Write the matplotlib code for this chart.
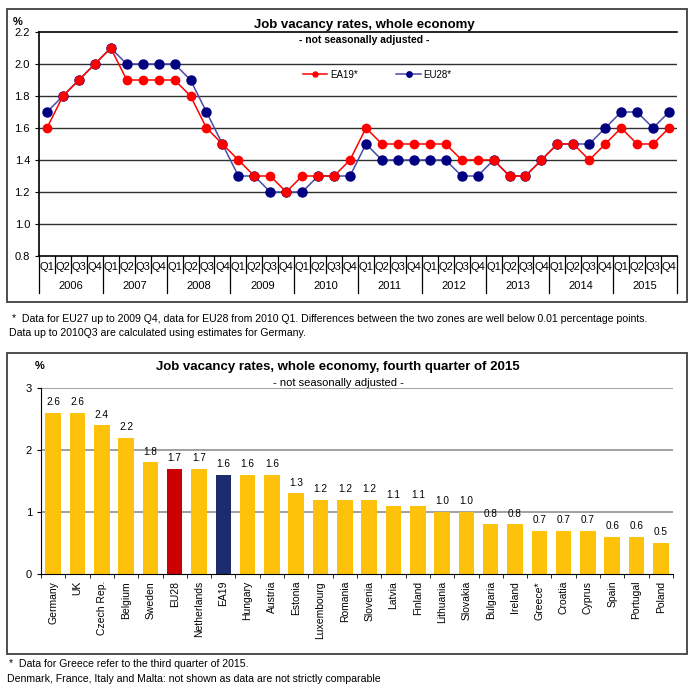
import matplotlib
matplotlib.use("Agg")
from matplotlib import pyplot as plt
from matplotlib.patches import Rectangle
from matplotlib import transforms

plt.rcParams['font.family'] = ['Liberation Sans', 'DejaVu Sans']

years = ["2006", "2007", "2008", "2009", "2010", "2011", "2012", "2013", "2014", "2015"]
quarters = ["Q1", "Q2", "Q3", "Q4"]

ea19 = [1.6, 1.8, 1.9, 2.0,
        2.1, 1.9, 1.9, 1.9,
        1.9, 1.8, 1.6, 1.5,
        1.4, 1.3, 1.3, 1.2,
        1.3, 1.3, 1.3, 1.4,
        1.6, 1.5, 1.5, 1.5,
        1.5, 1.5, 1.4, 1.4,
        1.4, 1.3, 1.3, 1.4,
        1.5, 1.5, 1.4, 1.5,
        1.6, 1.5, 1.5, 1.6]
eu28 = [1.7, 1.8, 1.9, 2.0,
        2.1, 2.0, 2.0, 2.0,
        2.0, 1.9, 1.7, 1.5,
        1.3, 1.3, 1.2, 1.2,
        1.2, 1.3, 1.3, 1.3,
        1.5, 1.4, 1.4, 1.4,
        1.4, 1.4, 1.3, 1.3,
        1.4, 1.3, 1.3, 1.4,
        1.5, 1.5, 1.5, 1.6,
        1.7, 1.7, 1.6, 1.7]

countries = ["Germany", "UK", "Czech Rep.", "Belgium", "Sweden", "EU28", "Netherlands",
             "EA19", "Hungary", "Austria", "Estonia", "Luxembourg", "Romania", "Slovenia",
             "Latvia", "Finland", "Lithuania", "Slovakia", "Bulgaria", "Ireland", "Greece*",
             "Croatia", "Cyprus", "Spain", "Portugal", "Poland"]
rates = [2.6, 2.6, 2.4, 2.2, 1.8, 1.7, 1.7, 1.6, 1.6, 1.6, 1.3, 1.2, 1.2, 1.2,
         1.1, 1.1, 1.0, 1.0, 0.8, 0.8, 0.7, 0.7, 0.7, 0.6, 0.6, 0.5]

W, H = 700, 694


def fig_rect(x0, y0, x1, y1):
    # pixel box (top-left origin) -> figure fraction [left, bottom, width, height]
    return [x0 / W, 1 - y1 / H, (x1 - x0) / W, (y1 - y0) / H]


fig = plt.figure(figsize=(W / 100, H / 100), dpi=100)

# outer frames
for y0, y1 in [(9, 302), (353, 654)]:
    l, b, w, h = fig_rect(7, y0, 687, y1)
    fig.patches.append(Rectangle((l, b), w, h, transform=fig.transFigure,
                                 fill=False, edgecolor='#404040', linewidth=1.3))

# ---------- line chart ----------
ax = fig.add_axes(fig_rect(39, 32, 677, 256))
x = list(range(len(ea19)))
ax.plot(x, ea19, '-o', color='#FF0000', markersize=6, linewidth=1.1, label="EA19*", zorder=3)
ax.plot(x, eu28, '-o', color='#4A4AA8', markerfacecolor='#000080', markeredgecolor='#000080',
        markersize=6.5, linewidth=1.1, label="EU28*", zorder=2)
ax.set_xlim(-0.5, len(x) - 0.5)
ax.set_ylim(0.8, 2.2)
ax.set_yticks([0.8, 1.0, 1.2, 1.4, 1.6, 1.8, 2.0, 2.2])
ax.set_yticklabels([f"{v:.1f}" for v in ax.get_yticks()], fontsize=8)
for v in [1.0, 1.2, 1.4, 1.6, 1.8, 2.0]:
    ax.axhline(v, color='#303030', linewidth=1.0, zorder=1)
ax.spines['right'].set_visible(False)
for s in ['left', 'bottom', 'top']:
    ax.spines[s].set_linewidth(1.2)
ax.tick_params(axis='y', length=3)
ax.set_xticks(x)
ax.set_xticklabels(quarters * len(years), fontsize=8)
ax.tick_params(axis='x', length=0, pad=4)
trans = transforms.blended_transform_factory(ax.transData, ax.transAxes)
for i in range(len(x) + 1):
    bottom = -0.165 if i % 4 == 0 else -0.075
    ax.plot([i - 0.5, i - 0.5], [0, bottom], color='black', linewidth=0.9,
            transform=trans, clip_on=False)
for k, yr in enumerate(years):
    ax.text(4 * k + 1.5, -0.135, yr, transform=trans, ha='center', va='center', fontsize=8)
ax.text(-0.033, 1.045, "%", transform=ax.transAxes, ha='center', va='center',
        fontsize=8, fontweight='bold')
ax.text(0.51, 1.016, "Job vacancy rates, whole economy", transform=ax.transAxes,
        ha='center', va='baseline', fontsize=9.5, fontweight='bold')
ax.text(0.51, 0.985, "- not seasonally adjusted -", transform=ax.transAxes,
        ha='center', va='top', fontsize=7.5, fontweight='bold')
ax.legend(loc='center', bbox_to_anchor=(0.53, 0.81), ncol=2, frameon=False, fontsize=7,
          markerscale=0.6, handlelength=2.5, columnspacing=4, handletextpad=0.3)

fig.text(12 / W, 1 - 319 / H,
         "*  Data for EU27 up to 2009 Q4, data for EU28 from 2010 Q1. Differences between the two zones are well below 0.01 percentage points.",
         fontsize=7.6, va='center')
fig.text(9 / W, 1 - 333 / H, "Data up to 2010Q3 are calculated using estimates for Germany.",
         fontsize=7.6, va='center')

# ---------- bar chart ----------
bx = fig.add_axes(fig_rect(41, 388, 673, 574))
colors = []
for c in countries:
    if c == "EU28":
        colors.append('#CC0000')
    elif c == "EA19":
        colors.append('#1C2C6C')
    else:
        colors.append('#FFC20A')
pos = list(range(len(countries)))
bx.bar(pos, rates, width=0.64, color=colors, zorder=2)
for p, v in zip(pos, rates):
    bx.annotate(f"{v:.1f}", (p, v), xytext=(0, 4), textcoords='offset points',
                ha='center', va='bottom', fontsize=7.2)
bx.set_xlim(-0.5, len(countries) - 0.5)
bx.set_ylim(0, 3)
bx.set_yticks([0, 1, 2, 3])
bx.set_yticklabels(["0", "1", "2", "3"], fontsize=8)
for v in [1, 2, 3]:
    bx.axhline(v, color='#909090', linewidth=1.2, zorder=1)
bx.spines['right'].set_visible(False)
bx.spines['top'].set_visible(False)
bx.set_xticks(pos)
bx.set_xticklabels(countries, rotation=90, fontsize=7.5)
bx.tick_params(axis='x', length=0, pad=5)
bx.set_xticks([p - 0.5 for p in pos] + [len(pos) - 0.5], minor=True)
bx.tick_params(axis='x', which='minor', length=3)
bx.tick_params(axis='y', length=3)
bx.text(-0.002, 1.118, "%", transform=bx.transAxes, ha='center', va='center',
        fontsize=8, fontweight='bold')
bx.text(0.47, 1.08, "Job vacancy rates, whole economy, fourth quarter of 2015",
        transform=bx.transAxes, ha='center', va='bottom', fontsize=9.5, fontweight='bold')
bx.text(0.47, 1.0, "- not seasonally adjusted -", transform=bx.transAxes,
        ha='center', va='bottom', fontsize=8)

fig.text(9 / W, 1 - 664 / H, "*  Data for Greece refer to the third quarter of 2015.",
         fontsize=7.6, va='center')
fig.text(7 / W, 1 - 679 / H,
         "Denmark, France, Italy and Malta: not shown as data are not strictly comparable",
         fontsize=7.6, va='center')

fig.savefig("out.png", dpi=100)
